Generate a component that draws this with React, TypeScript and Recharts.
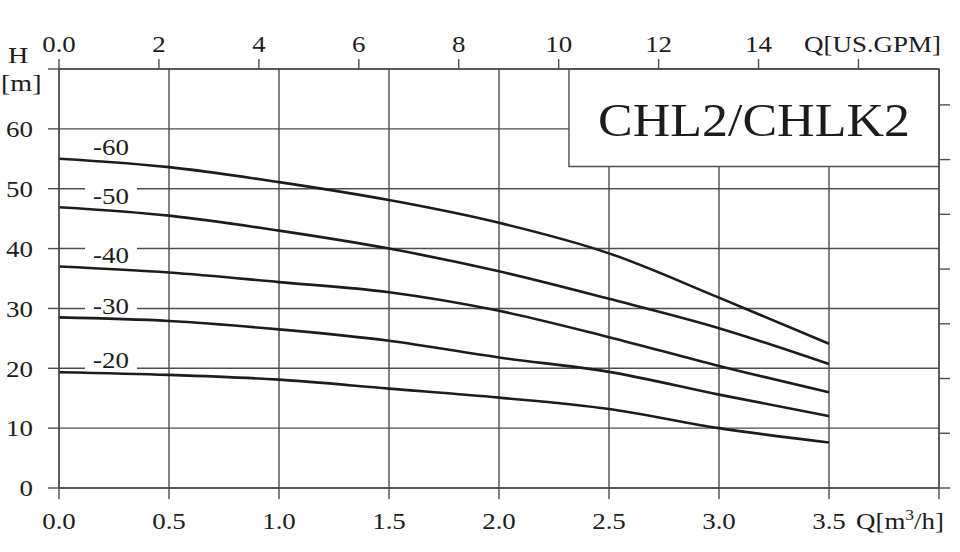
import { CartesianGrid, Label, Line, LineChart, ReferenceArea, XAxis, YAxis } from 'recharts'

// flow points [m3/h] and head per curve [m]
const flow = [0, 0.5, 1.0, 1.5, 2.0, 2.5, 3.0, 3.5]
const head60 = [55.0, 53.6, 51.1, 48.1, 44.3, 39.2, 31.8, 24.1]
const head50 = [46.9, 45.5, 43.0, 40.0, 36.2, 31.6, 26.7, 20.7]
const head40 = [37.0, 36.0, 34.4, 32.7, 29.6, 25.2, 20.4, 16.0]
const head30 = [28.5, 27.9, 26.5, 24.6, 21.8, 19.4, 15.6, 12.0]
const head20 = [19.35, 18.9, 18.1, 16.6, 15.1, 13.2, 10.0, 7.6]

const curveNames = ['-60', '-50', '-40', '-30', '-20']
const curveValues = [head60, head50, head40, head30, head20]

const qTicks = [0, 0.5, 1.0, 1.5, 2.0, 2.5, 3.0, 3.5, 4.0]
const hTicks = [0, 10, 20, 30, 40, 50, 60, 70]
const gpmTicks = [0, 2, 4, 6, 8, 10, 12, 14, 16]
const ftTicks = [0, 30, 60, 90, 120, 150, 180, 210]

const title = 'CHL2/CHLK2'

const M3H_TO_GPM = 4.40287
const M_TO_FT = 3.28084
const Q_MAX = 4
const H_MAX = 70

const INK = '#1c1c1c'
const GRID = '#4d4d4d'
const FONT = '"Liberation Serif", "Times New Roman", serif'
const STRETCH = 1.17

const data = flow.map((q, i) => {
  const row: Record<string, number> = { q, gpm: q * M3H_TO_GPM }
  curveNames.forEach((name, k) => {
    row[name] = curveValues[k][i]
  })
  return row
})

function SerifText({ x, y, anchor = 'middle', size = 23, stretch = STRETCH, dy = 0, children }: any) {
  return (
    <text
      transform={`translate(${x},${y}) scale(${stretch},1)`}
      textAnchor={anchor}
      fontFamily={FONT}
      fontSize={size}
      fill={INK}
      dy={dy}
    >
      {children}
    </text>
  )
}

function BottomTick({ x, y, payload }: any) {
  if (payload.value === Q_MAX) {
    return (
      <SerifText x={x + 5} y={y} dy="0.71em" anchor="end">
        Q[m<tspan fontSize={15} dy={-9}>3</tspan>
        <tspan dy={9}>/h]</tspan>
      </SerifText>
    )
  }
  return (
    <SerifText x={x} y={y} dy="0.71em">
      {payload.value.toFixed(1)}
    </SerifText>
  )
}

function TopTick({ x, y, payload }: any) {
  if (payload.value === 16) {
    return (
      <SerifText x={x + 14} y={y}>
        Q[US.GPM]
      </SerifText>
    )
  }
  return (
    <SerifText x={x} y={y}>
      {payload.value === 0 ? '0.0' : payload.value}
    </SerifText>
  )
}

function LeftTick({ x, y, payload }: any) {
  if (payload.value === H_MAX) return <g />
  return (
    <SerifText x={x} y={y} dy="0.36em" anchor="end">
      {payload.value}
    </SerifText>
  )
}

function EmptyTick() {
  return <g />
}

function curveLabel(name: string) {
  return (props: any) => {
    const { cx, cy, index } = props
    if (index !== 0) return <g key={`d-${name}-${index}`} />
    const lx = cx + 52
    const ly = cy - 12
    return (
      <g key={`d-${name}-${index}`}>
        <rect x={lx - 26} y={ly - 9} width={52} height={18} fill="#fff" />
        <SerifText x={lx} y={ly} dy="0.36em">
          {name}
        </SerifText>
      </g>
    )
  }
}

export default function App() {
  return (
    <div style={{ position: 'absolute', left: 0, top: 0, background: '#fff' }}>
      <LineChart width={960} height={552} data={data} margin={{ top: 0, right: 0, bottom: 0, left: 0 }}>
        <CartesianGrid xAxisId="q" yAxisId="h" stroke={GRID} strokeWidth={1.4} />
        <XAxis
          xAxisId="q"
          dataKey="q"
          type="number"
          domain={[0, Q_MAX]}
          ticks={qTicks}
          height={64}
          tickSize={11}
          tickMargin={14}
          tick={<BottomTick />}
          stroke={GRID}
          strokeWidth={1.4}
          allowDataOverflow
        />
        <XAxis
          xAxisId="gpm"
          dataKey="gpm"
          orientation="top"
          type="number"
          domain={[0, Q_MAX * M3H_TO_GPM]}
          ticks={gpmTicks}
          height={69}
          tickSize={10}
          tickMargin={7}
          tick={<TopTick />}
          stroke={GRID}
          strokeWidth={1.4}
          allowDataOverflow
        />
        <YAxis
          yAxisId="h"
          type="number"
          domain={[0, H_MAX]}
          ticks={hTicks}
          width={59}
          tickSize={11}
          tickMargin={15}
          tick={<LeftTick />}
          stroke={GRID}
          strokeWidth={1.4}
          allowDataOverflow
        >
          <Label
            content={(props: any) => {
              const vb = props.viewBox
              return (
                <g>
                  <SerifText x={8} y={vb.y - 6} anchor="start" size={24}>
                    H
                  </SerifText>
                  <SerifText x={1} y={vb.y + 22} anchor="start" size={24}>
                    [m]
                  </SerifText>
                </g>
              )
            }}
          />
        </YAxis>
        <YAxis
          yAxisId="ft"
          orientation="right"
          type="number"
          domain={[0, H_MAX * M_TO_FT]}
          ticks={ftTicks}
          width={21}
          tickSize={11}
          tick={<EmptyTick />}
          stroke={GRID}
          strokeWidth={1.4}
          allowDataOverflow
        />
        <ReferenceArea
          xAxisId="q"
          yAxisId="h"
          x1={2.318}
          x2={Q_MAX}
          y1={53.7}
          y2={H_MAX}
          fill="#fff"
          fillOpacity={1}
          stroke={GRID}
          strokeWidth={1.4}
          label={(props: any) => {
            const vb = props.viewBox
            return (
              <SerifText x={vb.x + vb.width / 2} y={vb.y + vb.height / 2 + 18} size={46} stretch={1.13}>
                {title}
              </SerifText>
            )
          }}
        />
        {curveNames.map((name) => (
          <Line
            key={name}
            xAxisId="q"
            yAxisId="h"
            dataKey={name}
            type="monotone"
            stroke={INK}
            strokeWidth={2.6}
            dot={curveLabel(name)}
            activeDot={false}
            isAnimationActive={false}
          />
        ))}
      </LineChart>
    </div>
  )
}
